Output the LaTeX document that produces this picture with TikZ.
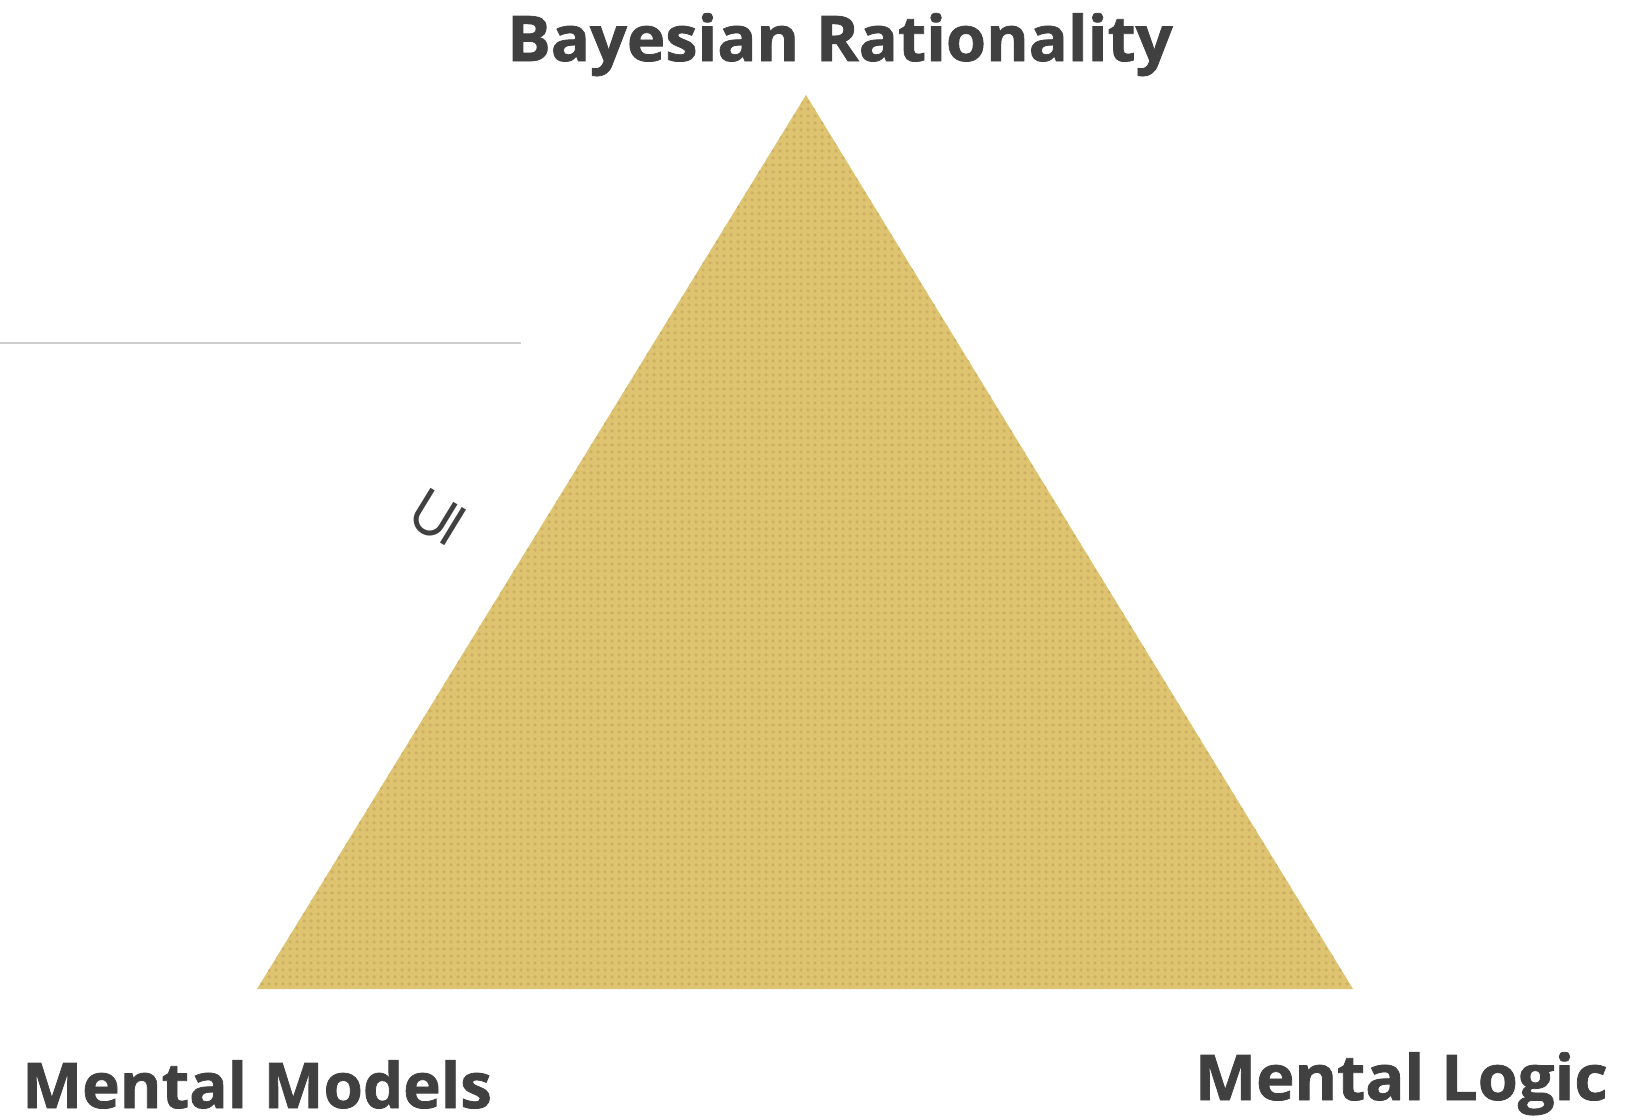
\documentclass[tikz,border=0pt]{standalone}
\usepackage{fontspec}
\usetikzlibrary{patterns.meta}
\setmainfont{Open Sans}
\newfontfamily\labfont{Open Sans}[UprightFont=* Bold, FakeBold=1.2]
\newfontfamily\relfont{DejaVu Sans}
\begin{document}
\begin{tikzpicture}[x=1pt,y=-1pt,
  label/.style={font=\labfont\fontsize{63}{70}\selectfont, text=inkgray, inner sep=0pt, text depth=0pt},
  relation/.style={font=\relfont\fontsize{68}{68}\selectfont, text=inkgray, inner sep=0pt}]
\definecolor{inkgray}{HTML}{404040}
\definecolor{sand}{HTML}{DEC371}
\definecolor{sanddot}{HTML}{CDB062}
\definecolor{rulegray}{HTML}{CFCFCF}
\tikzdeclarepattern{
  name=halftone, type=colored,
  bounding box={(0pt,0pt) and (7pt,7pt)},
  tile size={(7pt,7pt)},
  code={\fill[sanddot] (3.5pt,3.5pt) circle (2pt);}}
\useasboundingbox (0,0) rectangle (1629,1119);

% corners of the triangle
\coordinate (top) at (806,95);
\coordinate (bl) at (257,989);
\coordinate (br) at (1353,989);
\fill[sand] (top) -- (bl) -- (br) -- cycle;
\fill[pattern=halftone] (top) -- (bl) -- (br) -- cycle;

% thin rule on the left
\coordinate (ruleA) at (0,343);
\coordinate (ruleB) at (521,343);
\draw[rulegray, line width=2pt] (ruleA) -- (ruleB);

% corner labels
\node[label, anchor=base west, xscale=1.03] (bayes) at (507,61) {Bayesian Rationality};
\node[label, anchor=base west, xscale=1.01] (models) at (22,1108) {Mental Models};
\node[label, anchor=base east, xscale=1.03] (logic) at (1608,1100) {Mental Logic};

% relation along the left edge
\node[relation, rotate=58.5] (subset) at (438,517) {⊆};
\end{tikzpicture}
\end{document}
